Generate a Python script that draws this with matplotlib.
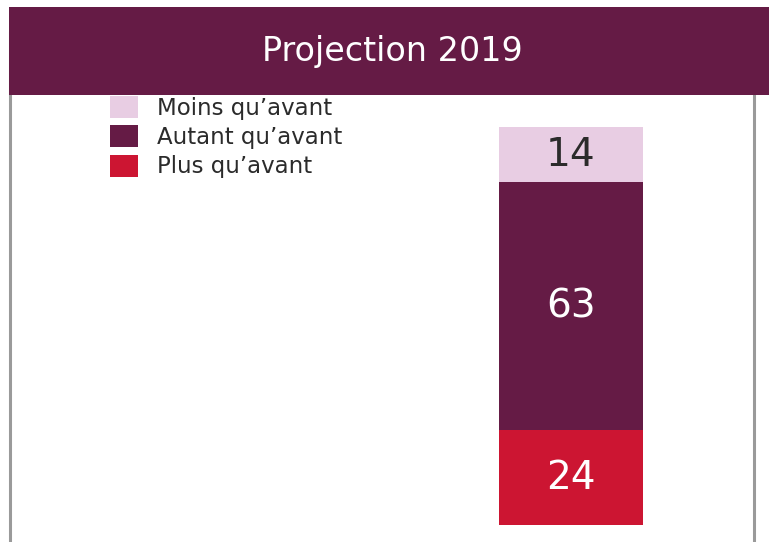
import matplotlib.pyplot as plt
from matplotlib.patches import Rectangle, Patch
from matplotlib.lines import Line2D

# data
categories = ["Plus qu’avant", "Autant qu’avant", "Moins qu’avant"]
values = [24, 63, 14]
colors = ["#CC1532", "#651B45", "#E8CDE3"]
label_colors = ["white", "white", "#2b2b2b"]
title = "Projection 2019"

W, H = 769, 542
fig = plt.figure(figsize=(W / 100, H / 100), dpi=100)


def fx(px):
    return px / W


def fy(py):
    return 1 - py / H


# grey side borders
fig.add_artist(Line2D([fx(10), fx(10)], [fy(33), 0], color="#9a9a9a", lw=2.2, zorder=1))
fig.add_artist(Line2D([fx(754), fx(754)], [fy(95), 0], color="#9a9a9a", lw=2.2, zorder=1))

# header band
fig.add_artist(Rectangle((fx(9), fy(95)), fx(W - 9), fy(7) - fy(95),
                         transform=fig.transFigure, facecolor="#651B45",
                         edgecolor="none", zorder=2))
fig.text(fx(392), fy(52), title, color="white", fontsize=24,
         ha="center", va="center", zorder=3)

# bar axes
ax = fig.add_axes([fx(10), fy(525), fx(744), (525 - 95) / H])
ax.set_ylim(0, 430 / 3.94)
ax.set_xlim(-(571 - 10) / 144, (754 - 571) / 144)
ax.axis("off")

bottom = 0
for v, c, lc in zip(values, colors, label_colors):
    ax.bar(0, v, width=1, bottom=bottom, color=c, edgecolor="none")
    ax.text(0, bottom + v / 2, str(v), ha="center", va="center",
            color=lc, fontsize=28)
    bottom += v

handles = [Patch(facecolor=c, edgecolor="none") for c in colors[::-1]]
fig.legend(handles, categories[::-1], loc="upper left",
           bbox_to_anchor=(fx(110), fy(96)), frameon=False,
           fontsize=16.5, handlelength=1.2, handleheight=1.1,
           handletextpad=0.85, labelspacing=0.24, borderpad=0,
           borderaxespad=0, labelcolor="#2b2b2b")

fig.savefig("out.png", dpi=100, facecolor="white")
